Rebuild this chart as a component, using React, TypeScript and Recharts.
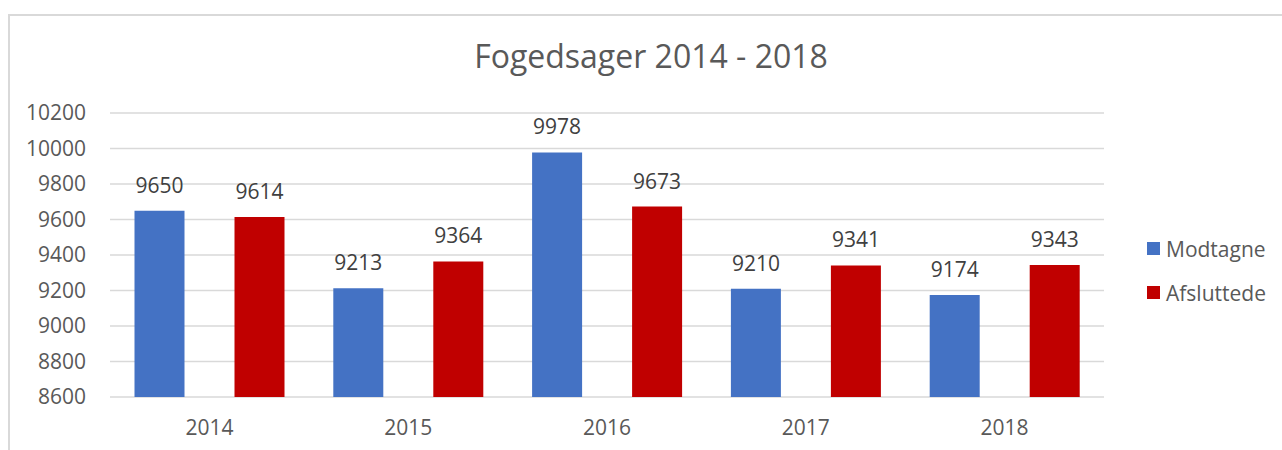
import React from "react";
import { BarChart, Bar, XAxis, YAxis, CartesianGrid, LabelList, Legend } from "recharts";

const years = ["2014", "2015", "2016", "2017", "2018"];
const modtagne = [9650, 9213, 9978, 9210, 9174];
const afsluttede = [9614, 9364, 9673, 9341, 9343];
const yTicks = [8600, 8800, 9000, 9200, 9400, 9600, 9800, 10000, 10200];

const data = years.map((y, i) => ({ year: y, Modtagne: modtagne[i], Afsluttede: afsluttede[i] }));

const FONT = "'Open Sans', 'Liberation Sans', sans-serif";
const BLUE = "#4472C4";
const RED = "#C00000";
const TXT = "#595959";

const LegendContent = () => {
  const items = [
    { name: "Modtagne", color: BLUE },
    { name: "Afsluttede", color: RED },
  ];
  return (
    <div style={{ position: "relative", width: 135, height: 90, fontFamily: FONT }}>
      {items.map((it, i) => (
        <div key={it.name} style={{ position: "absolute", left: 0, top: i * 44, height: 24, width: 135 }}>
          <span style={{ position: "absolute", left: 0, top: 5, width: 13, height: 13, background: it.color }} />
          <span style={{ position: "absolute", left: 19, top: 0, fontSize: 21, lineHeight: "24px", color: TXT, whiteSpace: "nowrap" }}>
            {it.name}
          </span>
        </div>
      ))}
    </div>
  );
};

export default function App() {
  return (
    <div style={{ position: "absolute", left: 0, top: 0, width: 1282, height: 450, background: "#fff", overflow: "hidden" }}>
      <div
        style={{
          position: "absolute",
          left: 8,
          top: 14,
          width: 1274,
          height: 436,
          borderTop: "2px solid #d9d9d9",
          borderLeft: "2px solid #d9d9d9",
          boxSizing: "border-box",
        }}
      />
      <div
        style={{
          position: "absolute",
          left: 0,
          width: 1282,
          top: 40,
          textAlign: "center",
          fontFamily: FONT,
          fontSize: 32,
          lineHeight: "32px",
          color: TXT,
          paddingLeft: 20,
          boxSizing: "border-box",
        }}
      >
        Fogedsager 2014 - 2018
      </div>
      <div style={{ position: "absolute", left: 0, top: 0 }}>
        <BarChart
          width={1282}
          height={450}
          data={data}
          margin={{ top: 113, right: 178, bottom: 23, left: 0 }}
          barGap={50}
          barCategoryGap={24.5}
        >
          <CartesianGrid vertical={false} stroke="#d9d9d9" strokeWidth={1.5} />
          <XAxis
            dataKey="year"
            height={30}
            axisLine={false}
            tickLine={false}
            tickSize={0}
            tickMargin={23}
            tick={{ fill: TXT, fontSize: 21, fontFamily: FONT }}
          />
          <YAxis
            width={110}
            domain={[8600, 10200]}
            ticks={yTicks}
            interval={0}
            axisLine={false}
            tickLine={false}
            tickSize={0}
            tickMargin={24}
            tick={{ fill: TXT, fontSize: 21, fontFamily: FONT }}
          />
          <Legend
            layout="horizontal"
            verticalAlign="middle"
            align="center"
            content={<LegendContent />}
            wrapperStyle={{ position: "absolute", left: 1147, top: 237, width: 135, height: 90 }}
          />
          <Bar dataKey="Modtagne" fill={BLUE} isAnimationActive={false}>
            <LabelList dataKey="Modtagne" position="top" offset={18} fill="#404040" fontSize={21} fontFamily={FONT} />
          </Bar>
          <Bar dataKey="Afsluttede" fill={RED} isAnimationActive={false}>
            <LabelList dataKey="Afsluttede" position="top" offset={18} fill="#404040" fontSize={21} fontFamily={FONT} />
          </Bar>
        </BarChart>
      </div>
    </div>
  );
}
